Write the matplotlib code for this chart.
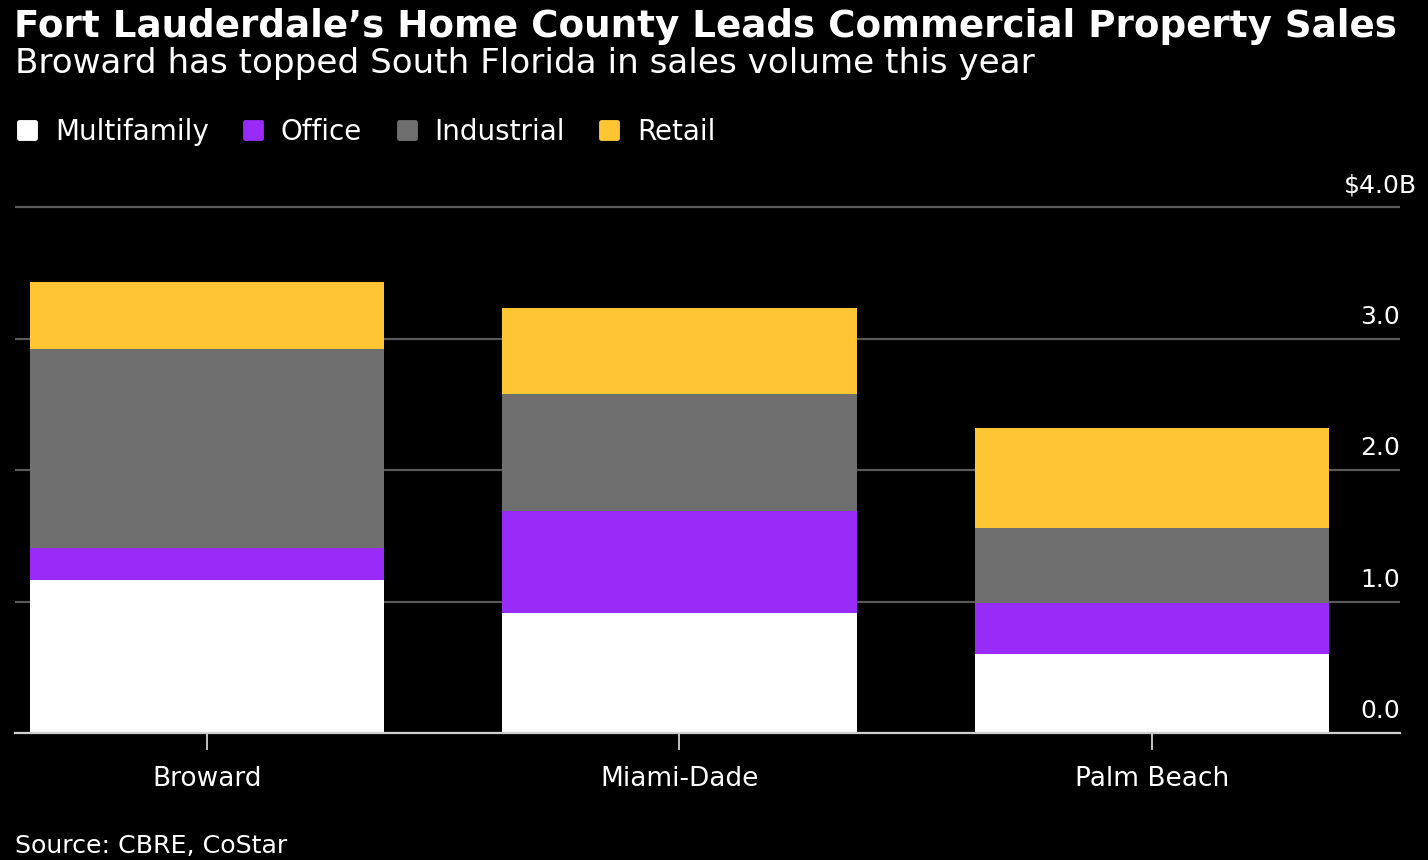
"""
Broward commercial property sales, stacked by property type.
"""

import matplotlib
matplotlib.use('Agg')
import matplotlib.pyplot as plt
from matplotlib.lines import Line2D
from matplotlib.markers import MarkerStyle
from matplotlib.transforms import offset_copy
import numpy as np


# Data (billions of dollars)
counties = ['Broward', 'Miami-Dade', 'Palm Beach']
multifamily = [1.16, 0.91, 0.60]
office = [0.25, 0.78, 0.39]
industrial = [1.51, 0.89, 0.57]
retail = [0.51, 0.65, 0.76]
segment_names = ['Multifamily', 'Office', 'Industrial', 'Retail']
y_ticks = [0, 1, 2, 3, 4]
y_tick_labels = ['0.0', '1.0', '2.0', '3.0', r'\$4.0B']

# Style
BG = '#000000'
TEXT = '#ffffff'
GRID = '#5a5a5a'
AXIS = '#d0d0d0'
SEG_COLORS = ['#ffffff', '#982bf7', '#6e6e6e', '#ffc533']
FONT = 'DejaVu Sans'
TICK_SIZE = 18

W, H = 1428, 860

plt.rcParams['font.family'] = [FONT]

fig = plt.figure(figsize=(W / 100, H / 100), dpi=100, facecolor=BG)
ax = fig.add_axes([15 / W, 1 - 733 / H, 1385 / W, (733 - 204.4) / H])
ax.set_facecolor(BG)

x = np.arange(len(counties))
series = [multifamily, office, industrial, retail]
bottom = np.zeros(len(counties))
for vals, color in zip(series, SEG_COLORS):
    ax.bar(x, vals, width=0.75, bottom=bottom, color=color, linewidth=0, zorder=3)
    bottom += np.array(vals)

ax.set_xlim(-0.406, 2.525)
ax.set_ylim(0, 4.02)

# grid + right side value labels sitting above the lines
ax.set_yticks(y_ticks)
ax.tick_params(axis='y', length=0, labelleft=False)
ax.grid(axis='y', color=GRID, linewidth=1.6, zorder=1)
ax.grid(axis='x', visible=False)

# the unit suffix "B" hangs past the right edge so the numbers line up
renderer = fig.canvas.get_renderer()
probe = fig.text(0, 0, 'B', fontsize=TICK_SIZE)
suffix_w = probe.get_window_extent(renderer).width
probe.remove()
for v, lab in zip(y_ticks, y_tick_labels):
    dx = suffix_w if lab.endswith('B') else 0
    tr = offset_copy(ax.transData, fig=fig, x=dx, y=15, units='dots')
    ax.text(ax.get_xlim()[1], v, lab, transform=tr, ha='right', va='baseline',
            fontsize=TICK_SIZE, color=TEXT, clip_on=False)

for side in ('top', 'left', 'right'):
    ax.spines[side].set_visible(False)
ax.spines['bottom'].set_color(AXIS)
ax.spines['bottom'].set_linewidth(1.6)
ax.spines['bottom'].set_zorder(4)

ax.set_xticks(x)
ax.set_xticklabels(counties, fontsize=19, color=TEXT)
ax.tick_params(axis='x', length=12, width=1.3, color=AXIS, pad=12)

# titles
fig.text(14 / W, 1 - 37 / H, 'Fort Lauderdale’s Home County Leads Commercial Property Sales',
         fontsize=26.8, fontweight='bold', color=TEXT, va='baseline', ha='left')
fig.text(15 / W, 1 - 73 / H, 'Broward has topped South Florida in sales volume this year',
         fontsize=24.6, color=TEXT, va='baseline', ha='left')

# legend with rounded squares
marker = MarkerStyle('s', joinstyle='round')
handles = [Line2D([], [], linestyle='none', marker=marker, markersize=11.5,
                  markerfacecolor=c, markeredgecolor=c, markeredgewidth=3.5)
           for c in SEG_COLORS]
leg = fig.legend(handles, segment_names, loc='center left',
                 bbox_to_anchor=(16 / W, 1 - 132 / H), ncol=4, frameon=False,
                 fontsize=20, handlelength=0.8, handletextpad=0.6,
                 columnspacing=1.2, borderpad=0, borderaxespad=0)
for t in leg.get_texts():
    t.set_color(TEXT)

fig.text(15 / W, 1 - 853 / H, 'Source: CBRE, CoStar', fontsize=18.2, color=TEXT,
         va='baseline', ha='left')

fig.savefig('out.png', dpi=100, facecolor=BG)
